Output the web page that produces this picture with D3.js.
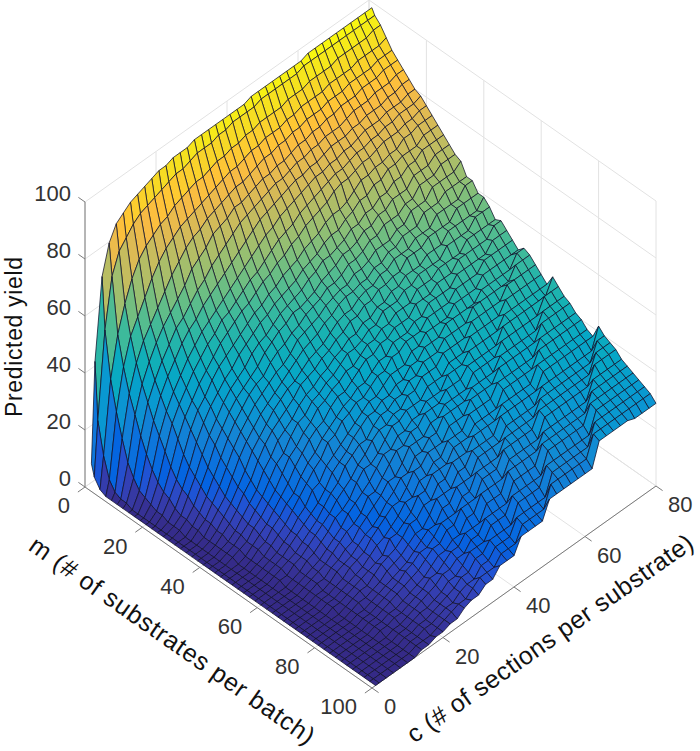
<!DOCTYPE html>
<html>
<head>
<meta charset="utf-8">
<style>
body { margin: 0; background: #fff; }
text { font-family: "Liberation Sans", Arial, sans-serif; }
</style>
<script src="https://cdn.jsdelivr.net/npm/d3@7"></script>
</head>
<body>
<svg width="700" height="751"></svg>
<script>
"use strict";

var mTicks = [0, 20, 40, 60, 80, 100];
var cTicks = [0, 20, 40, 60, 80];
var zTicks = [0, 20, 40, 60, 80, 100];

// grid of the surface
var mValues = [1, 2, 4, 6, 8, 10, 12, 14, 16, 18, 20, 22, 24, 26, 28, 30, 32, 34, 36, 38, 40, 42, 44, 46, 48, 50,
  52, 54, 56, 58, 60, 62, 64, 66, 68, 70, 72, 74, 76, 78, 80, 82, 84, 86, 88, 90, 92, 94, 96, 98, 100];
var cValues = [1, 2, 4, 6, 8, 10, 12, 14, 16, 18, 20, 22, 24, 26, 28, 30, 32, 34, 36, 38, 40,
  42, 44, 46, 48, 50, 52, 54, 56, 58, 60, 62, 64, 66, 68, 70, 72, 74, 76, 78, 80];

// one row per m, one column per c
var yieldRows = [
  [8,43,71,81,86,88,90,91,92,93,94,94,95,95,95,96,96,96,96,96,96,96,96,97,97,97,97,97,97,97,97,98,98,98,98,98,98,98,98,98,98],
  [4,23,53,70,77,80,83,85,86,87,88,89,90,90,91,92,92,92,93,93,94,94,94,94,95,95,95,95,95,95,96,96,96,96,96,96,96,96,96,96,96],
  [1,12,37,51,60,67,72,75,77,79,80,82,83,84,85,85,86,87,87,88,88,89,89,90,90,90,90,91,91,91,92,92,92,92,93,93,93,93,93,94,94],
  [0,5,27,41,50,55,60,65,69,72,74,76,77,78,79,80,81,82,83,83,84,85,85,86,86,86,87,87,88,88,88,88,89,89,89,89,90,90,90,90,91],
  [0,2,19,33,42,48,52,56,60,64,67,70,72,73,75,76,77,78,79,79,80,81,82,82,83,83,84,84,85,85,85,86,86,86,87,87,87,87,88,88,88],
  [0,1,12,27,36,42,47,51,54,57,60,64,66,68,71,72,73,75,75,76,77,78,78,79,79,80,81,81,82,82,83,83,84,84,84,85,85,85,86,86,86],
  [0,1,8,21,31,37,42,46,50,52,55,58,60,63,65,67,69,71,72,73,74,75,76,76,77,78,78,79,79,80,80,80,81,82,82,82,83,83,83,84,84],
  [0,0,5,16,26,33,38,42,46,49,51,54,56,58,60,62,64,66,68,70,71,72,73,74,75,75,76,76,77,78,78,78,79,79,80,80,80,81,81,82,82],
  [0,0,4,12,22,29,34,38,42,45,48,50,52,54,56,58,60,62,64,66,67,69,70,71,72,73,74,74,75,75,76,76,77,78,78,78,79,79,79,80,80],
  [0,0,3,9,18,26,31,35,39,42,45,47,50,51,53,55,57,58,60,62,64,65,66,68,69,70,71,72,73,73,74,75,75,76,76,77,77,78,78,78,79],
  [0,0,2,7,14,22,28,32,36,39,42,45,47,49,51,52,54,56,57,59,60,62,63,65,66,67,68,70,71,71,72,73,73,74,75,75,75,76,76,77,77],
  [0,0,2,6,11,18,25,30,33,37,40,42,44,46,48,50,51,53,54,56,57,58,60,61,62,64,65,65,66,68,70,70,71,71,72,72,74,74,75,75,75],
  [0,0,1,4,9,15,22,27,31,34,37,39,42,44,46,48,49,51,52,53,54,56,57,58,60,61,61,63,64,66,66,68,68,70,70,71,71,71,73,73,73],
  [0,0,1,3,8,13,19,24,28,32,35,37,39,42,44,45,47,49,50,51,52,54,55,57,57,58,59,61,61,63,63,65,65,67,67,69,69,71,71,71,71],
  [0,0,1,3,6,11,16,22,26,30,33,35,37,39,42,44,46,47,49,49,50,51,53,54,55,57,57,58,60,60,62,62,64,64,64,67,67,67,69,69,69],
  [0,0,0,2,5,9,14,19,24,28,31,34,36,37,40,42,43,45,46,48,49,50,52,52,53,55,55,56,58,58,60,60,60,62,62,65,65,65,67,67,67],
  [0,0,0,2,4,8,12,17,22,26,29,32,34,36,38,39,41,44,45,46,47,49,50,51,51,53,53,54,56,56,56,58,58,61,61,61,64,64,64,64,66],
  [0,0,0,1,4,7,10,15,20,24,27,30,32,34,36,38,40,42,43,44,46,47,49,50,50,51,51,53,53,55,55,57,57,57,60,60,60,62,62,62,62],
  [0,0,0,1,3,6,9,13,17,22,25,28,31,33,35,36,38,40,41,42,44,46,47,47,49,50,50,52,52,54,54,54,56,56,56,59,59,59,59,62,62],
  [0,0,0,1,3,5,8,12,15,20,24,27,29,31,33,36,37,38,40,41,43,44,46,46,48,48,50,50,51,51,54,54,54,56,56,56,56,59,59,59,59],
  [0,0,0,1,2,4,7,10,13,18,21,25,27,29,32,34,35,37,38,40,41,43,43,45,45,47,47,49,49,51,51,51,53,53,53,56,56,56,56,56,59],
  [0,0,0,1,2,4,6,9,12,16,20,22,26,29,30,33,34,36,37,39,41,41,42,44,44,47,47,47,49,49,51,51,51,51,54,54,54,54,57,57,57],
  [0,0,0,1,2,3,6,8,11,14,18,22,24,27,29,32,33,35,36,38,38,40,42,42,44,44,46,46,46,49,49,49,51,51,51,51,54,54,54,54,54],
  [0,0,0,0,1,3,5,7,10,13,16,20,23,26,28,29,32,34,34,36,38,40,40,42,42,44,44,44,47,47,47,49,49,49,52,52,52,52,52,55,55],
  [0,0,0,0,1,3,4,7,9,12,14,18,21,23,26,28,30,32,33,35,35,37,39,39,42,42,42,44,44,47,47,47,47,50,50,50,50,50,53,53,53],
  [0,0,0,0,1,2,4,6,8,11,14,17,20,22,26,27,30,31,33,33,35,37,37,40,40,42,42,42,45,45,45,45,48,48,48,48,51,51,51,51,51],
  [0,0,0,0,1,2,3,5,7,10,12,16,17,21,23,25,27,29,31,33,33,35,37,37,37,40,40,43,43,43,43,46,46,46,46,49,49,49,49,49,49],
  [0,0,0,0,1,2,3,5,7,9,11,13,16,20,22,24,27,29,31,31,33,33,35,35,38,38,41,41,41,44,44,44,44,44,47,47,47,47,47,51,51],
  [0,0,0,0,1,2,3,4,6,8,10,13,16,18,22,24,26,26,29,31,31,33,33,36,36,39,39,39,42,42,42,42,46,46,46,46,46,46,50,50,50],
  [0,0,0,0,1,1,3,4,6,8,10,12,15,17,19,22,24,27,29,29,31,31,34,34,37,37,37,40,40,40,40,44,44,44,44,44,48,48,48,48,48],
  [0,0,0,0,0,1,2,4,5,7,9,12,13,15,19,22,22,24,27,30,30,32,32,32,35,35,35,38,38,38,42,42,42,42,42,46,46,46,46,46,46],
  [0,0,0,0,0,1,2,3,4,6,8,10,13,15,17,19,22,25,25,28,28,30,30,33,33,33,37,37,37,40,40,40,40,40,44,44,44,44,44,44,44],
  [0,0,0,0,0,1,2,3,4,6,8,10,11,13,17,17,20,23,26,26,29,29,32,32,32,35,35,35,38,38,38,38,38,43,43,43,43,43,43,43,48],
  [0,0,0,0,0,1,2,2,4,5,7,8,11,13,15,17,20,20,23,27,27,27,30,30,33,33,33,33,37,37,37,37,41,41,41,41,41,41,46,46,46],
  [0,0,0,0,0,1,1,2,4,5,6,8,10,11,13,16,18,21,21,25,25,28,28,32,32,32,32,35,35,35,35,39,39,39,39,39,39,44,44,44,44],
  [0,0,0,0,0,1,1,2,3,5,6,7,10,12,14,16,16,19,23,23,26,26,26,30,30,30,34,34,34,34,38,38,38,38,38,38,43,43,43,43,43],
  [0,0,0,0,0,1,1,2,3,4,5,7,9,10,12,14,17,17,21,21,24,24,28,28,28,32,32,32,32,36,36,36,36,36,36,41,41,41,41,41,41],
  [0,0,0,0,0,1,1,2,3,4,5,6,7,11,11,13,15,19,19,23,23,23,27,27,27,30,30,30,30,35,35,35,35,35,40,40,40,40,40,40,40],
  [0,0,0,0,0,0,1,2,3,3,5,7,8,9,11,14,14,17,17,21,21,25,25,25,29,29,29,29,33,33,33,33,33,38,38,38,38,38,38,38,38],
  [0,0,0,0,0,0,1,2,2,3,4,6,7,8,10,12,12,15,19,19,19,23,23,27,27,27,27,32,32,32,32,32,32,37,37,37,37,37,37,37,37],
  [0,0,0,0,0,0,1,1,2,3,4,5,6,7,9,11,13,13,17,17,21,21,21,26,26,26,26,30,30,30,30,30,35,35,35,35,35,35,35,35,42],
  [0,0,0,0,0,0,1,1,2,3,4,5,7,8,10,10,12,15,15,15,19,19,24,24,24,24,29,29,29,29,29,34,34,34,34,34,34,34,34,40,40],
  [0,0,0,0,0,0,1,1,2,3,4,5,6,7,9,11,11,14,14,18,18,18,23,23,23,28,28,28,28,28,33,33,33,33,33,33,33,33,39,39,39],
  [0,0,0,0,0,0,1,1,2,2,3,4,5,6,8,10,10,12,12,16,16,21,21,21,21,26,26,26,26,26,32,32,32,32,32,32,32,38,38,38,38],
  [0,0,0,0,0,0,1,1,2,2,3,4,5,7,7,9,11,11,14,14,14,19,19,19,25,25,25,25,25,30,30,30,30,30,30,30,36,36,36,36,36],
  [0,0,0,0,0,0,0,1,1,2,3,4,5,6,8,8,10,10,13,13,17,17,17,17,23,23,23,23,29,29,29,29,29,29,29,35,35,35,35,35,35],
  [0,0,0,0,0,0,0,1,1,2,3,3,4,5,7,7,9,12,12,12,16,16,16,21,21,21,21,21,28,28,28,28,28,28,34,34,34,34,34,34,34],
  [0,0,0,0,0,0,0,1,1,2,2,3,4,5,6,8,8,11,11,14,14,14,14,20,20,20,20,26,26,26,26,26,26,26,33,33,33,33,33,33,33],
  [0,0,0,0,0,0,0,1,1,2,2,3,4,4,6,7,7,10,10,13,13,13,18,18,18,18,18,25,25,25,25,25,25,32,32,32,32,32,32,32,32],
  [0,0,0,0,0,0,0,1,1,1,2,3,4,5,5,7,9,9,9,12,12,12,17,17,17,17,24,24,24,24,24,24,31,31,31,31,31,31,31,31,31],
  [0,0,0,0,0,0,0,1,1,2,2,3,3,5,6,6,8,8,11,11,11,16,16,16,16,22,22,22,22,22,22,22,30,30,30,30,30,29,29,29,29]
];

var parula = ["#352A87", "#3637A0", "#3243BA", "#2053D4", "#0363E1", "#0D75DC", "#1485D4", "#0998D1", "#06A7C6", "#15B1B4", "#38B99E",
  "#65BE86", "#92BF73", "#B7BD64", "#D9BA56", "#F8BB44", "#FFC337", "#FCCE2E", "#F7D826", "#F5E41D", "#F9FB0E"];
var parulaIndex = [0, 2, 4, 6, 8, 12, 16, 20, 24, 28, 32, 36, 40, 44, 48, 52, 54, 56, 58, 60, 63];

var svg = d3.select("svg");

// the 3d box flattened on the page: each data axis adds its own x and y shift
var originX = 85, originY = 487;
var xFromM = d3.scaleLinear().domain([0, 100]).range([0, 287]);
var yFromM = d3.scaleLinear().domain([0, 100]).range([0, 201]);
var xFromC = d3.scaleLinear().domain([0, 80]).range([0, 284]);
var yFromC = d3.scaleLinear().domain([0, 80]).range([0, -202]);
var yFromZ = d3.scaleLinear().domain([0, 100]).range([0, -285]);

var zMax = d3.max(yieldRows, function (r) { return d3.max(r); });
var color = d3.scaleLinear().domain(parulaIndex.map(function (i) {
  return i / 63 * zMax;
})).range(parula).clamp(true);

function px(m, c) { return originX + xFromM(m) + xFromC(c); }
function py(m, c, z) { return originY + yFromM(m) + yFromC(c) + yFromZ(z); }

function addLine(g, a, b) {
  g.append("line")
    .attr("x1", px(a[0], a[1])).attr("y1", py(a[0], a[1], a[2]))
    .attr("x2", px(b[0], b[1])).attr("y2", py(b[0], b[1], b[2]));
}

// grid on the floor and the two back walls
var grid = svg.append("g").attr("stroke", "#e2e2e2").attr("stroke-width", 1).attr("fill", "none");
mTicks.forEach(function (m) {
  addLine(grid, [m, 0, 0], [m, 80, 0]);
  addLine(grid, [m, 80, 0], [m, 80, 100]);
});
cTicks.forEach(function (c) {
  addLine(grid, [0, c, 0], [100, c, 0]);
  addLine(grid, [0, c, 0], [0, c, 100]);
});
zTicks.forEach(function (z) {
  addLine(grid, [0, 0, z], [0, 80, z]);
  addLine(grid, [0, 80, z], [100, 80, z]);
});

// box edges and ticks
var axes = svg.append("g").attr("stroke", "#7a7a7a").attr("stroke-width", 1).attr("fill", "none");
addLine(axes, [0, 0, 0], [0, 0, 100]);
addLine(axes, [0, 0, 0], [100, 0, 0]);
addLine(axes, [100, 0, 0], [100, 80, 0]);
zTicks.forEach(function (z) { addLine(axes, [0, 0, z], [-2.3, 0, z]); });
mTicks.forEach(function (m) { addLine(axes, [m, 0, 0], [m, -2, 0]); });
cTicks.forEach(function (c) { addLine(axes, [100, c, 0], [102.3, c, 0]); });

// surface cells, far corner first so nearer ones paint over
var cells = [];
d3.range(mValues.length - 1).forEach(function (i) {
  d3.range(cValues.length - 2, -1, -1).forEach(function (j) {
    cells.push({ i: i, j: j });
  });
});

function cellPath(d) {
  var corners = [[d.i, d.j], [d.i + 1, d.j], [d.i + 1, d.j + 1], [d.i, d.j + 1]];
  return "M" + corners.map(function (p) {
    var m = mValues[p[0]], c = cValues[p[1]];
    return px(m, c).toFixed(2) + "," + py(m, c, yieldRows[p[0]][p[1]]).toFixed(2);
  }).join("L") + "Z";
}

svg.append("g").attr("class", "surface").selectAll("path").data(cells).enter().append("path")
  .attr("d", cellPath)
  .attr("fill", function (d) {
    return color(d3.mean([yieldRows[d.i][d.j], yieldRows[d.i + 1][d.j],
      yieldRows[d.i + 1][d.j + 1], yieldRows[d.i][d.j + 1]]));
  })
  .attr("stroke", "#10102a")
  .attr("stroke-width", 0.75)
  .attr("stroke-linejoin", "round");

// tick labels
var labels = svg.append("g").attr("fill", "#333").attr("font-size", 22);
labels.selectAll(".z").data(zTicks).enter().append("text")
  .attr("text-anchor", "end").attr("dominant-baseline", "middle")
  .attr("x", 71)
  .attr("y", function (d) { return py(0, 0, d) - 7; })
  .text(function (d) { return d; });
labels.selectAll(".m").data(mTicks).enter().append("text")
  .attr("text-anchor", "end").attr("dominant-baseline", "middle")
  .attr("x", function (d) { return px(d, 0) - 15; })
  .attr("y", function (d) { return py(d, 0, 0) + 20.5; })
  .text(function (d) { return d; });
labels.selectAll(".c").data(cTicks).enter().append("text")
  .attr("text-anchor", "start").attr("dominant-baseline", "middle")
  .attr("x", function (d) { return px(100, d) + 12; })
  .attr("y", function (d) { return py(100, d, 0) + 20.5; })
  .text(function (d) { return d; });

// axis titles
function title(text, x, y, angle, length, size) {
  svg.append("text")
    .attr("transform", "translate(" + x + "," + y + ") rotate(" + angle + ")")
    .attr("text-anchor", "middle").attr("dominant-baseline", "middle")
    .attr("font-size", size).attr("fill", "#111")
    .attr("textLength", length).attr("lengthAdjust", "spacing")
    .text(text);
}
title("Predicted yield", 16, 337, -90, 160, 23);
title("m (# of substrates per batch)", 171, 642, 35, 342, 25);
title("c (# of sections per substrate)", 551, 640, -35, 343, 25);
</script>
</body>
</html>
